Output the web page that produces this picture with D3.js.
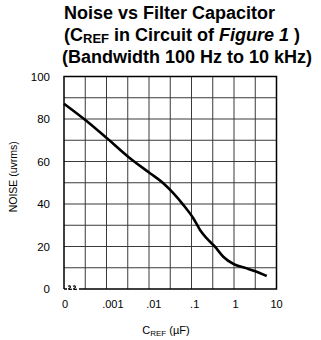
<!DOCTYPE html>
<html>
<head>
<meta charset="utf-8">
<script src="https://cdn.jsdelivr.net/npm/d3@7"></script>
<style>
  html, body { margin: 0; padding: 0; background: #fff; }
  svg { display: block; }
</style>
</head>
<body>
<svg id="chart" width="321" height="340"></svg>
<script>
// ---- data ----
const capacitance = [0, 0.000216, 0.00073, 0.00248, 0.00807, 0.0171, 0.030, 0.0526, 0.0924, 0.135, 0.196, 0.313, 0.50, 0.88, 1.87, 3.28, 5.76];
const noise       = [87.2, 79.4, 70.8, 61.9, 54.5, 49.8, 45.1, 39.6, 33.3, 27.8, 23.9, 19.9, 15.2, 11.8, 9.7, 8.1, 6.1];
const xTickValues = [0, 0.001, 0.01, 0.1, 1, 10];
const xTickLabels = ["0", ".001", ".01", ".1", "1", "10"];
const yTickValues = [0, 20, 40, 60, 80, 100];
const titleLine1 = "Noise vs Filter Capacitor";
const titleLine3 = "(Bandwidth 100 Hz to 10 kHz)";

// ---- layout ----
const L = 64, R = 276.5, T = 76.5, B = 289;
const W = R - L;
const svg = d3.select("#chart");
svg.append("rect").attr("width", 321).attr("height", 340).attr("fill", "#fff");

const xLog = d3.scaleLog().domain([0.001, 10]).range([L + 0.23 * W, R]);
const xPos = c => c === 0 ? L : xLog(c);
const y = d3.scaleLinear().domain([0, 100]).range([B, T]);
const gridX = d3.scaleLinear().domain([0, 10]).range([L, R]);

// ---- title ----
const title = svg.append("g").attr("font-family", "'Liberation Sans', Arial, Helvetica, sans-serif")
  .attr("font-weight", "bold").attr("font-size", 18).attr("fill", "#000");
title.append("text").attr("x", 64).attr("y", 19).text(titleLine1);
const t2 = title.append("text").attr("x", 64).attr("y", 41);
t2.append("tspan").text("(C");
t2.append("tspan").attr("font-size", 13).attr("dy", 2).text("REF");
t2.append("tspan").attr("dy", -2).text(" in Circuit of ");
t2.append("tspan").attr("font-style", "italic").text("Figure 1");
t2.append("tspan").text(" )");
title.append("text").attr("x", 62).attr("y", 63).text(titleLine3);

// ---- grid ----
const grid = svg.append("g").attr("stroke", "#3a3a3a").attr("stroke-width", 1);
grid.selectAll("line.v").data(d3.range(1, 10)).join("line")
  .attr("class", "v")
  .attr("x1", d => gridX(d)).attr("x2", d => gridX(d))
  .attr("y1", T).attr("y2", B);
grid.selectAll("line.h").data(d3.range(10, 100, 10)).join("line")
  .attr("class", "h")
  .attr("x1", L).attr("x2", R)
  .attr("y1", d => y(d)).attr("y2", d => y(d));

// ---- frame with axis break ----
const frame = svg.append("g").attr("stroke", "#000").attr("stroke-width", 1.5).attr("fill", "none");
frame.append("path").attr("d", `M${L},${B} V${T} H${R} V${B} H${L + 15}`);
frame.append("path").attr("d", `M${L},${B} H${L + 3}`);
const sq = d3.path();
[L + 4, L + 9].forEach(x0 => {
  sq.moveTo(x0, 286.3);
  sq.bezierCurveTo(x0 + 2.6, 284.8, x0 + 3.2, 287.4, x0 + 1.2, 288.4);
  sq.bezierCurveTo(x0 - 0.4, 289.2, x0 + 1.6, 290, x0 + 4, 289);
});
frame.append("path").attr("d", sq.toString()).attr("stroke-width", 1.2);

// ---- tick labels ----
svg.append("g").attr("font-family", "'Liberation Sans Narrow', 'Arial Narrow', 'Liberation Sans', sans-serif")
  .attr("font-size", 11.5).attr("text-anchor", "end")
  .selectAll("text").data(yTickValues).join("text")
  .attr("x", 50).attr("y", d => y(d) + 4).text(d => d);

svg.append("g").attr("font-family", "'Liberation Sans', Arial, sans-serif")
  .attr("font-size", 11).attr("text-anchor", "middle")
  .selectAll("text").data(xTickValues).join("text")
  .attr("x", d => xPos(d) + (d === 0 ? 1 : 0)).attr("y", 308)
  .text((d, i) => xTickLabels[i]);

// ---- axis titles ----
svg.append("text")
  .attr("transform", `translate(17,${(T + B) / 2 - 6}) rotate(-90)`)
  .attr("text-anchor", "middle")
  .attr("font-family", "'Liberation Sans', Arial, sans-serif").attr("font-size", 10.5)
  .text("NOISE (uvrms)");

const xt = svg.append("text").attr("x", 166).attr("y", 334).attr("text-anchor", "middle")
  .attr("font-family", "'Liberation Sans', Arial, sans-serif").attr("font-size", 11);
xt.append("tspan").text("C");
xt.append("tspan").attr("font-size", 8).attr("dy", 2).text("REF");
xt.append("tspan").attr("dy", -2).text(" (\u00B5F)");

// ---- curve ----
const pts = capacitance.map((c, i) => [xPos(c), y(noise[i])]);
svg.append("path")
  .attr("d", d3.line().curve(d3.curveMonotoneX)(pts))
  .attr("fill", "none").attr("stroke", "#000").attr("stroke-width", 2.6)
  .attr("stroke-linejoin", "round").attr("stroke-linecap", "butt");
</script>
</body>
</html>
